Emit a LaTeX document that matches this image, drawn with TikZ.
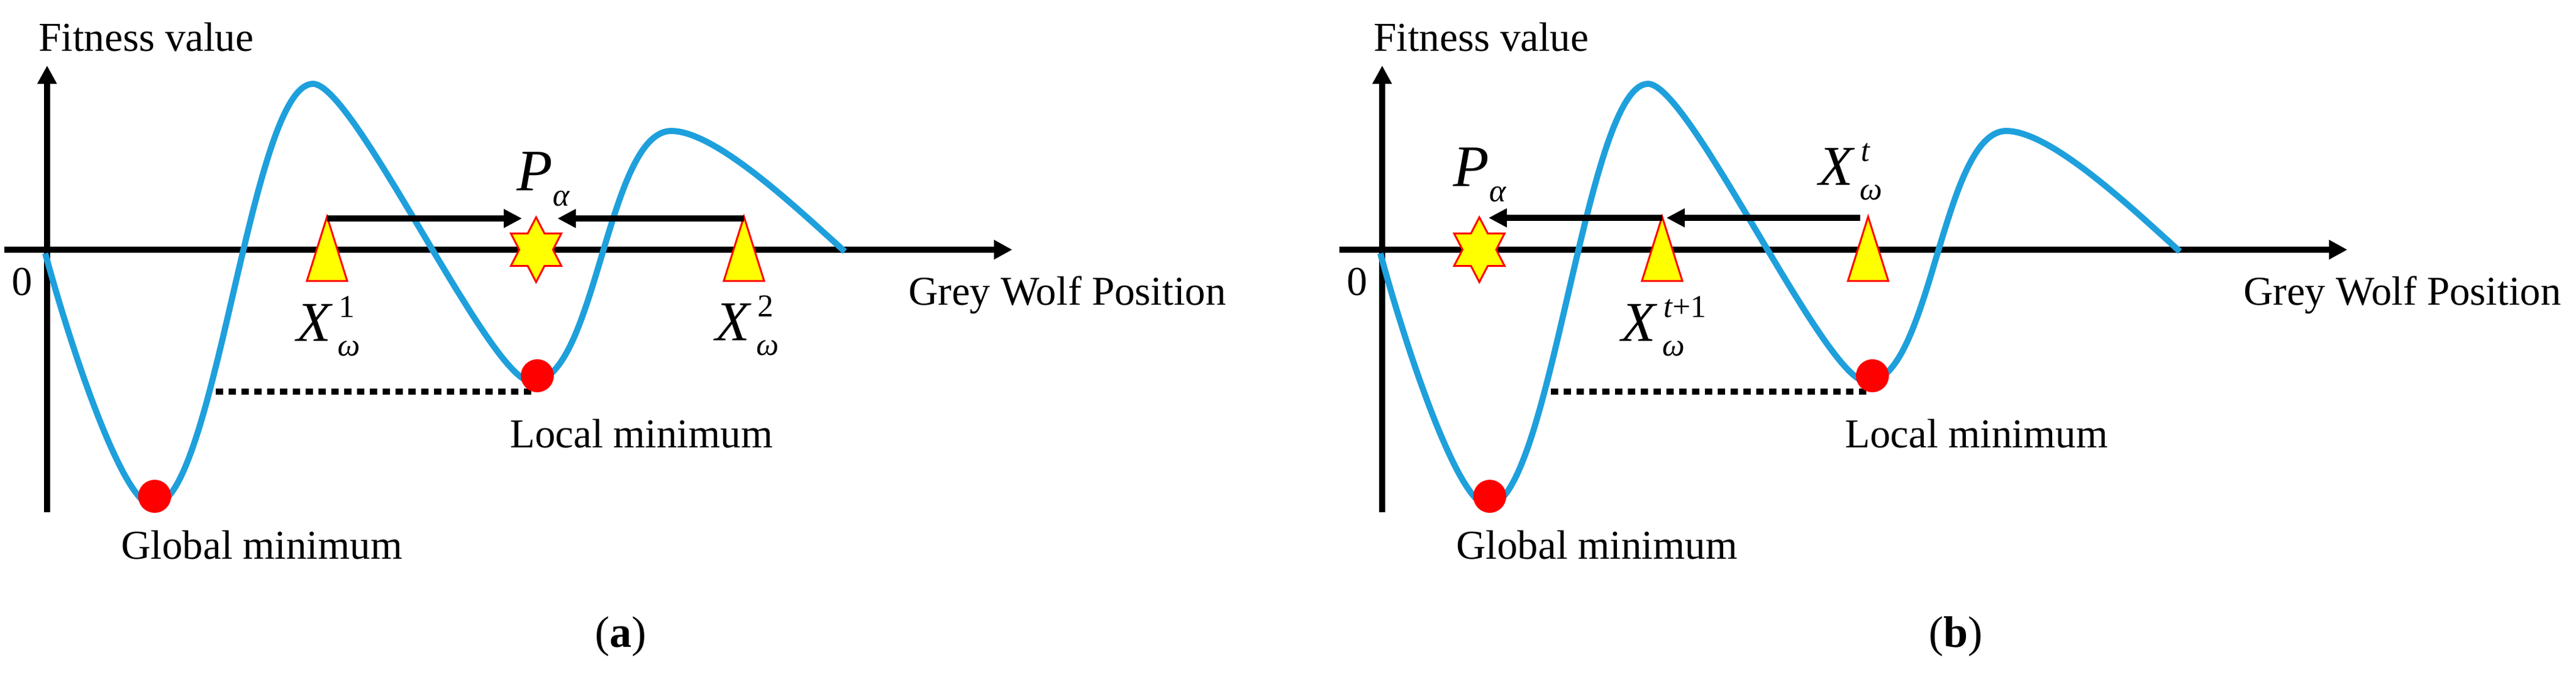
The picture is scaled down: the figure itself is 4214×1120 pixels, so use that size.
\documentclass[tikz,border=0pt]{standalone}
\usepackage{fontspec}
\setmainfont{Liberation Serif}
\usetikzlibrary{arrows.meta}
\definecolor{curveblue}{RGB}{30,160,220}
\definecolor{wolfyellow}{RGB}{255,255,0}
\definecolor{wolfred}{RGB}{255,0,0}

\newcommand\txtfont{\fontsize{33.5}{40}\selectfont}
\newcommand\bigmath{\fontsize{46}{50}\selectfont\itshape}
\newcommand\bigP{\fontsize{48}{50}\selectfont\itshape}
\newcommand\smallmath{\fontsize{26}{30}\selectfont}
\newcommand\Xlabel[1]{{\bigmath X}\rlap{\hspace{6.5pt}\raisebox{19.5pt}{\smallmath #1}}\hspace{5.5pt}\raisebox{-12pt}{\smallmath\itshape ω}}
\newcommand\Plabel{{\bigP P}\hspace{0pt}\raisebox{-12.5pt}{\smallmath\itshape α}}

\tikzset{
  axisline/.style={line width=5pt, -{Triangle[length=15pt,width=15pt]}},
  moveline/.style={line width=5.25pt, -{Triangle[length=15pt,width=14.5pt]}},
  fitcurve/.style={draw=curveblue, line width=5pt},
  levelline/.style={line width=5pt, dash pattern=on 6pt off 4.5pt},
  mindot/.style={circle, fill=wolfred, draw=none, minimum size=27pt, inner sep=0pt},
  wolfmark/.style={fill=wolfyellow, draw=wolfred, line width=1.5pt, line join=miter},
  lbl/.style={inner sep=0pt, anchor=base west, font=\txtfont},
  mathlbl/.style={inner sep=0pt, anchor=base west},
}

% common parts of one panel: axes, curve, minima, texts
\newcommand\panelbase[2]{%
  \coordinate (xa#1) at (7,408);
  \coordinate (xb#1) at (1656,408);
  \coordinate (ya#1) at (77,837);
  \coordinate (yb#1) at (77,107);
  \draw[axisline] (xa#1) -- (xb#1);
  \draw[axisline] (ya#1) -- (yb#1);
  \draw[fitcurve] (74,414)
      .. controls (125,600) and (205,826) .. (250,826)
      .. controls (352,826) and (410,137) .. (512,137)
      .. controls (580,137) and (802,624) .. (870,624)
      .. controls (975,624) and (993,214) .. (1098,214)
      .. controls (1170,214) and (1300,337) .. (1382,411);
  \coordinate (lva#1) at (353,640);
  \coordinate (lvb#1) at (878,640);
  \draw[levelline] (lva#1) -- (lvb#1);
  \node[mindot] (gmin#1) at (253,811) {};
  \node[mindot] (lmin#1) at (879,614) {};
  \node[lbl] (fit#1) at (63,83) {Fitness value};
  \node[lbl] (zero#1) at (19,482) {0};
  \node[lbl] (pos#1) at (1486,498) {Grey Wolf Position};
  \node[lbl] (glob#1) at (198,913) {Global minimum};
  \node[lbl] (loc#1) at (834,731) {Local minimum};
  \node[inner sep=0pt, anchor=base, font=\fontsize{36}{40}\selectfont] (cap#1) at (1015,1057) {(\textbf{#2})};
}
\newcommand\wolftri[2]{%
  \draw[wolfmark] (#1,#2) -- (#1+33,459) -- (#1-33,459) -- cycle;
}
\newcommand\alphastar[2]{%
  \draw[wolfmark, shift={(#1,#2)}, xscale=0.9]
    (90:53) -- (120:30.6) -- (150:53) -- (180:30.6) -- (210:53) -- (240:30.6)
    -- (270:53) -- (300:30.6) -- (330:53) -- (0:30.6) -- (30:53) -- (60:30.6) -- cycle;
}

\begin{document}
\begin{tikzpicture}[x=0.5pt,y=-0.5pt]
\useasboundingbox (0,0) rectangle (4214,1120);

% ---------- panel (a) ----------
\begin{scope}
  \panelbase{A}{a}
  \wolftri{535}{354}
  \wolftri{1217}{354}
  \alphastar{877}{408}
  \coordinate (w1A) at (535,357);
  \coordinate (p1A) at (854,357);
  \coordinate (w2A) at (1217,357);
  \coordinate (p2A) at (912,357);
  \draw[moveline] (w1A) -- (p1A);
  \draw[moveline] (w2A) -- (p2A);
  \node[mathlbl] (palA) at (845,311) {\Plabel};
  \node[mathlbl] (x1A) at (485,557) {\Xlabel{1}};
  \node[mathlbl] (x2A) at (1170,556) {\Xlabel{2}};
\end{scope}

% ---------- panel (b) ----------
\begin{scope}[xshift=1092pt]
  \panelbase{B}{b}
  \wolftri{535}{354}
  \wolftri{872}{354}
  \alphastar{236}{408}
  \coordinate (wtB) at (859,356);
  \coordinate (wnB) at (542,356);
  \coordinate (wsB) at (535,356);
  \coordinate (paB) at (251,356);
  \draw[moveline] (wtB) -- (wnB);
  \draw[moveline] (wsB) -- (paB);
  \node[mathlbl] (palB) at (193,304) {\Plabel};
  \node[mathlbl] (xtB) at (791,302) {\Xlabel{\itshape t}};
  \node[mathlbl] (xnB) at (468,557) {\Xlabel{{\itshape t}+1}};
\end{scope}
\end{tikzpicture}
\end{document}
